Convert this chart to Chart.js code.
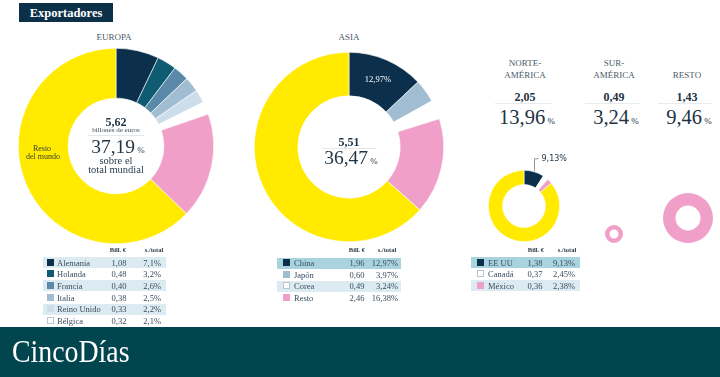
<!DOCTYPE html>
<html>
<head>
<meta charset="utf-8">
<script src="https://cdn.jsdelivr.net/npm/chart.js@4.4.1/dist/chart.umd.min.js"></script>
<style>
  body { margin: 0; background: #fff; }
  #lienzo { position: relative; width: 720px; height: 377px; overflow: hidden; background: #fff;
            font-family: "Liberation Serif", serif; color: #1e3345; }
  #lienzo canvas { position: absolute; }
  .t { position: absolute; white-space: nowrap; line-height: 1; z-index: 3; }
  .caja { position: absolute; z-index: 1; }
</style>
</head>
<body>
<div id="lienzo"></div>
<script>
// datos de las regiones
const regiones = ['EUROPA', 'ASIA', 'NORTE-<br>AMÉRICA', 'SUR-<br>AMÉRICA', 'RESTO'];
const regionBillones = [5.62, 5.51, 2.05, 0.49, 1.43];
const regionPct = [37.19, 36.47, 13.96, 3.24, 9.46];

const europaPaises = ['Alemania', 'Holanda', 'Francia', 'Italia', 'Reino Unido', 'Bélgica'];
const europaBill = [1.08, 0.48, 0.40, 0.38, 0.33, 0.32];
const europaPct = [7.1, 3.2, 2.6, 2.5, 2.2, 2.1];

const asiaPaises = ['China', 'Japón', 'Corea', 'Resto'];
const asiaBill = [1.96, 0.60, 0.49, 2.46];
const asiaPct = [12.97, 3.97, 3.24, 16.38];

const nortePaises = ['EE UU', 'Canadá', 'México'];
const norteBill = [1.38, 0.37, 0.36];
const nortePct = [9.13, 2.45, 2.38];

// colores
const AMARILLO = '#ffea00';
const ROSA = '#f0a0c8';
const europaColores = ['#0c2f4b', '#0f5b71', '#5b8aa8', '#a0bdd1', '#cddeea', '#ffffff'];
const asiaColores = ['#0c2f4b', '#a0bdd1', '#ffffff', ROSA];
const norteColores = ['#0c2f4b', '#ffffff', ROSA];

const lienzo = document.getElementById('lienzo');
const fmt = (v, d) => v.toFixed(d).replace('.', ',');
const suma = arr => arr.reduce((a, b) => a + b, 0);

function texto(str, x, y, estilo, align) {
  const d = document.createElement('div');
  d.className = 't';
  d.innerHTML = str;
  d.style.left = x + 'px';
  d.style.top = y + 'px';
  Object.assign(d.style, estilo || {});
  const tx = align === 'left' ? '0' : align === 'right' ? '-100%' : '-50%';
  d.style.transform = 'translate(' + tx + ', -50%)';
  lienzo.appendChild(d);
  return d;
}

function caja(x, y, w, h, estilo) {
  const d = document.createElement('div');
  d.className = 'caja';
  Object.assign(d.style, { left: x + 'px', top: y + 'px', width: w + 'px', height: h + 'px' }, estilo);
  lienzo.appendChild(d);
  return d;
}

function lienzoGrafico(x, y, w, h) {
  const c = document.createElement('canvas');
  c.width = w; c.height = h;
  c.style.left = x + 'px'; c.style.top = y + 'px';
  lienzo.appendChild(c);
  return c.getContext('2d');
}

// etiqueta del primer sector (dentro o con linea guia)
const etiquetaSector = {
  id: 'etiquetaSector',
  afterDatasetsDraw(chart, args, opts) {
    if (!opts.texto) return;
    const arc = chart.getDatasetMeta(0).data[0];
    const ctx = chart.ctx;
    ctx.save();
    ctx.font = opts.font;
    ctx.fillStyle = opts.color;
    ctx.textBaseline = 'middle';
    if (opts.guia) {
      const a = (arc.startAngle + arc.endAngle) / 2;
      const x = Math.round(arc.x + Math.cos(a) * arc.outerRadius) + 0.5;
      const y = arc.y + Math.sin(a) * arc.outerRadius - 1;
      const yTop = y - 12;
      ctx.strokeStyle = '#8a96a0';
      ctx.lineWidth = 1;
      ctx.beginPath();
      ctx.moveTo(x, y);
      ctx.lineTo(x, yTop);
      ctx.lineTo(x + 4, yTop);
      ctx.stroke();
      ctx.textAlign = 'left';
      ctx.fillText(opts.texto, x + 7, yTop);
    } else {
      const p = arc.tooltipPosition();
      ctx.textAlign = 'center';
      ctx.fillText(opts.texto, p.x, p.y);
    }
    ctx.restore();
  }
};

function donut(ctx, valores, colores, cutout, padding, etiqueta, borde) {
  return new Chart(ctx, {
    type: 'doughnut',
    data: { datasets: [{ data: valores, backgroundColor: colores, borderColor: '#ffffff', borderWidth: borde }] },
    options: {
      responsive: false,
      animation: false,
      events: [],
      cutout: cutout,
      layout: { padding: padding },
      plugins: { legend: { display: false }, tooltip: { enabled: false }, etiquetaSector: etiqueta || {} }
    },
    plugins: [etiquetaSector]
  });
}

// cabecera
caja(19, 3, 94, 19, { background: '#0d3049' });
texto('Exportadores', 66, 13, { color: '#fff', fontWeight: 'bold', fontSize: '12.5px' });

// titulos de region
const tituloEstilo = { color: '#4a5a68', fontSize: '9px', textAlign: 'center', lineHeight: '12px' };
texto(regiones[0], 114, 37, tituloEstilo);
texto(regiones[1], 349, 37, tituloEstilo);
texto(regiones[2], 525, 69, tituloEstilo);
texto(regiones[3], 614, 69, tituloEstilo);
texto(regiones[4], 687, 75, tituloEstilo);

// EUROPA
donut(lienzoGrafico(18, 48, 196, 196),
  [...europaPct, regionPct[0] - suma(europaPct), 100 - regionPct[0]],
  [...europaColores, ROSA, AMARILLO], '49%', 0, null, 0.6);

const negrita = { fontWeight: 'bold', fontSize: '12px', color: '#1e3345' };
const grande = { fontSize: '19.5px', color: '#1e3345' };
const pctPeq = '<span style="font-size:9px">&nbsp;%</span>';
texto(fmt(regionBillones[0], 2), 116, 122, negrita);
texto('billones de euros', 116, 130, { fontSize: '7px', color: '#3a4c5c' });
caja(88, 135, 56, 1, { background: '#e2e8ec', zIndex: 3 });
texto(fmt(regionPct[0], 2) + pctPeq, 118, 147, grande);
texto('sobre el', 116, 161, { fontSize: '10.5px', color: '#2a3d4e' });
texto('total mundial', 116, 170, { fontSize: '10.5px', color: '#2a3d4e' });
texto('Resto', 42, 149, { fontSize: '8px', color: '#3a4030' });
texto('del mundo', 43, 157, { fontSize: '8px', color: '#3a4030' });

// ASIA
donut(lienzoGrafico(254, 52, 190, 190),
  [...asiaPct, 100 - suma(asiaPct)],
  [...asiaColores, AMARILLO], '54%', 0,
  { texto: fmt(asiaPct[0], 2) + '%', font: '8.5px "Liberation Serif"', color: '#ffffff' }, 0.6);
texto(fmt(regionBillones[1], 2), 349, 142, negrita);
caja(322, 148, 54, 1, { background: '#e2e8ec', zIndex: 3 });
texto(fmt(regionPct[1], 2) + pctPeq, 351, 158, grande);

// NORTEAMERICA
donut(lienzoGrafico(480, 150, 110, 100),
  [...nortePct, 100 - suma(nortePct)],
  [...norteColores, AMARILLO], '60%', { left: 8, right: 30, top: 20, bottom: 8 },
  { texto: fmt(nortePct[0], 2) + '%', font: '8px "DejaVu Sans"', color: '#1e3345', guia: true }, 0.6);

// SURAMERICA y RESTO
donut(lienzoGrafico(605, 225, 18, 18), [regionPct[3]], [ROSA], '50%', 0, null, 0);
donut(lienzoGrafico(663, 193, 50, 50), [regionPct[4]], [ROSA], '50%', 0, null, 0);

// cifras de la derecha
[[2, 525, 495, 552], [3, 614, 585, 640], [4, 687, 658, 712]].forEach(([i, cx, x0, x1]) => {
  texto(fmt(regionBillones[i], 2), cx, 97, negrita);
  caja(x0, 103, x1 - x0, 1, { background: '#e6ebee' });
  texto(fmt(regionPct[i], 2) + pctPeq, cx + 2, 117, { fontSize: '20.5px', color: '#1e3345' });
});

// tablas
const cabecera = { fontWeight: 'bold', fontSize: '6.5px', color: '#2a3a4a' };
const fila = { fontSize: '8.5px', color: '#3a4c5e' };
function tabla(paises, bill, pct, colores, fondos, dec, pos) {
  texto('Bill. €', pos.cabVal, 250, cabecera);
  texto('s./total', pos.cabPct, 250, cabecera);
  paises.forEach((p, i) => {
    const y = pos.y0 + i * pos.paso;
    if (fondos[i]) caja(pos.izq, y - 5.5, pos.der - pos.izq, 11, { background: fondos[i] });
    caja(pos.muestra, y - 4, 7, 7, {
      background: colores[i], zIndex: 2,
      border: colores[i] === '#ffffff' ? '0.8px solid #b9c6cf' : '0.8px solid ' + colores[i],
      boxSizing: 'border-box'
    });
    texto(p, pos.nombre, y, fila, 'left');
    texto(fmt(bill[i], 2), pos.val, y, fila);
    texto(fmt(pct[i], dec) + '%', pos.pct, y, fila, 'right');
  });
}
const CLARO = '#dcebf1';
const OSCURO = '#a9d3de';
tabla(europaPaises, europaBill, europaPct, europaColores, [CLARO, '', CLARO, '', CLARO, ''], 1,
  { izq: 43, der: 166, muestra: 47, nombre: 57, val: 119, pct: 161, cabVal: 118, cabPct: 154, y0: 262.5, paso: 11.7 });
tabla(asiaPaises, asiaBill, asiaPct, asiaColores, [OSCURO, '', CLARO, ''], 2,
  { izq: 277, der: 401, muestra: 283, nombre: 294, val: 357, pct: 398, cabVal: 357, cabPct: 387, y0: 263, paso: 11.6 });
tabla(nortePaises, norteBill, nortePct, norteColores, [OSCURO, '', CLARO], 2,
  { izq: 471, der: 580, muestra: 477, nombre: 488, val: 535, pct: 575, cabVal: 536, cabPct: 567, y0: 262.5, paso: 11.7 });

// pie
caja(0, 327, 720, 50, { background: '#01454f' });
const logo = texto('CincoDías', 12, 351, { color: '#ffffff', fontSize: '32px' }, 'left');
logo.style.transform = 'translate(0, -50%) scaleX(0.87)';
logo.style.transformOrigin = 'left center';
</script>
</body>
</html>
